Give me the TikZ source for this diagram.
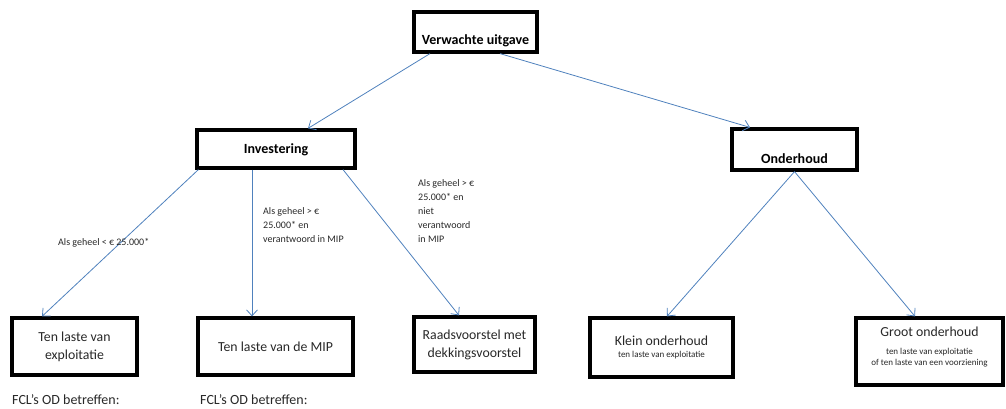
\documentclass[tikz,border=0pt]{standalone}
\usepackage{fontspec}
\setmainfont{Carlito}
\usetikzlibrary{arrows.meta}
\definecolor{arrowblue}{RGB}{79,129,189}
\definecolor{txt}{RGB}{40,40,40}
\tikzset{
  box/.style={draw=black, line width=3.2pt, fill=white, inner sep=0pt},
  conn/.style={draw=arrowblue, line width=0.8pt, -{Straight Barb[length=6pt,width=11pt]}},
  boxtext/.style={font=\fontsize{13.8}{17.5}\selectfont, text=txt, align=center},
  boldtext/.style={font=\bfseries\fontsize{14}{17}\selectfont, text=black},
  cond/.style={font=\fontsize{10}{14}\selectfont, text=txt, align=left, inner sep=0pt},
  subtext/.style={font=\fontsize{9}{11.5}\selectfont, text=txt},
  foot/.style={font=\fontsize{14}{16}\selectfont, text=txt, anchor=base west, inner sep=0pt},
}
\begin{document}
\begin{tikzpicture}[x=1pt,y=-1pt]
\useasboundingbox (0,0) rectangle (1006,409);

% boxes
\node[box, minimum width=123pt, minimum height=40pt] (v) at (475.5,32) {};
\node[boldtext] (vt) at (475.5,41) {Verwachte uitgave};

\node[box, minimum width=158pt, minimum height=38pt] (inv) at (276,149) {};
\node[boldtext] (invt) at (276,150) {Investering};

\node[box, minimum width=125pt, minimum height=41pt] (ond) at (794.5,149.5) {};
\node[boldtext] (ondt) at (794.5,159) {Onderhoud};

\node[box, minimum width=125pt, minimum height=57pt] (b1) at (74.5,346.5) {};
\node[boxtext] (b1t) at (74.5,347) {Ten laste van\\exploitatie};

\node[box, minimum width=155pt, minimum height=57pt] (b2) at (275.5,346.5) {};
\node[boxtext] (b2t) at (275.5,346.5) {Ten laste van de MIP};

\node[box, minimum width=121pt, minimum height=55pt] (b3) at (474.5,344.5) {};
\node[boxtext] (b3t) at (474.5,345) {Raadsvoorstel met\\dekkingsvoorstel};

\node[box, minimum width=143pt, minimum height=59pt] (b4) at (661.5,347.5) {};
\node[boxtext] (b4t) at (661.5,341) {Klein onderhoud};
\node[subtext] (b4s) at (661.5,355) {ten laste van exploitatie};

\node[box, minimum width=147pt, minimum height=67pt] (b5) at (929.5,351.5) {};
\node[boxtext] (b5t) at (929.5,332) {Groot onderhoud};
\node[subtext, align=center] (b5s) at (929.5,357.5) {ten laste van exploitatie\\of ten laste van een voorziening};

% connectors
\draw[conn] ([xshift=-45.5pt]v.south) -- ([xshift=32pt]inv.north);
\draw[conn] ([xshift=24.5pt]v.south) -- ([xshift=-44.5pt]ond.north);
\draw[conn] ([xshift=3pt]inv.south west) -- ([xshift=-32.5pt]b1.north);
\draw[conn] ([xshift=-24pt]inv.south) -- ([xshift=-23.5pt]b2.north);
\draw[conn] ([xshift=67pt]inv.south) -- ([xshift=-15.5pt]b3.north);
\draw[conn] (ond.south) -- ([xshift=5.5pt]b4.north);
\draw[conn] (ond.south) -- ([xshift=-14.5pt]b5.north);

% condition labels
\node[cond, anchor=west] (c1) at (58,243) {Als geheel < € 25.000*};
\node[cond, anchor=north west] (c2) at (263,207.5) {Als geheel > €\\25.000* en\\verantwoord in MIP};
\node[cond, anchor=north west] (c3) at (418,179.5) {Als geheel > €\\25.000* en\\niet\\verantwoord\\in MIP};

% bottom texts
\node[foot] (f1) at (12,404.5) {FCL's OD betreffen:};
\node[foot] (f2) at (200,404.5) {FCL's OD betreffen:};
\end{tikzpicture}
\end{document}
